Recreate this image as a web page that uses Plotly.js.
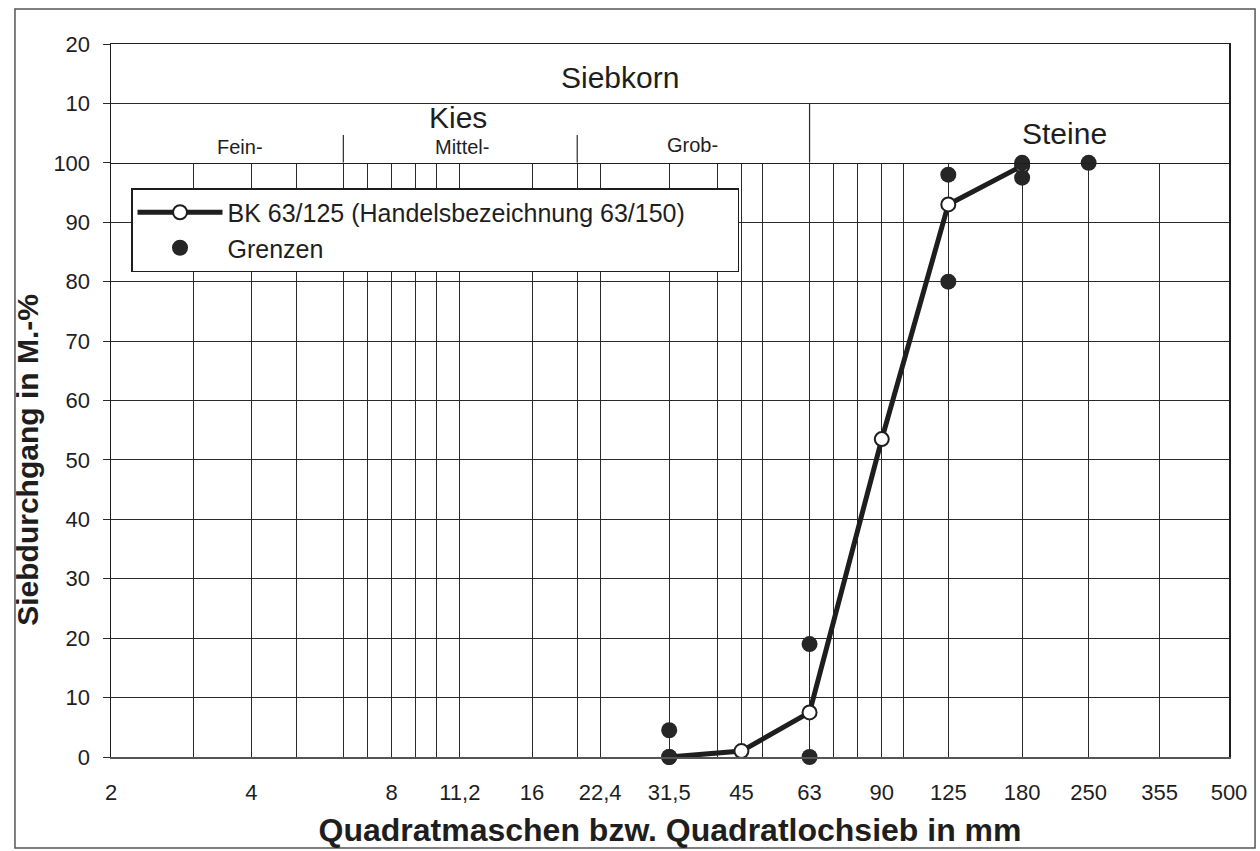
<!DOCTYPE html>
<html>
<head>
<meta charset="utf-8">
<script src="https://cdn.plot.ly/plotly-3.0.1.min.js"></script>
<style>html,body{margin:0;padding:0;background:#fff}</style>
</head>
<body>
<div id="chart" style="width:1260px;height:851px"></div>
<script>
// ---- data ----
const sieveSizes   = [31.5, 45, 63, 90, 125, 180];
const bkPassing    = [0, 1, 7.5, 53.5, 93, 99.5];
const limitSizes   = [31.5, 31.5, 63, 63, 125, 125, 180, 180, 250];
const limitPassing = [4.5, 0, 19, 0, 98, 80, 100, 97.5, 100];

// vertical grid lines (sieve sizes) and labelled ticks
const gridSizes  = [3, 4, 5, 6.3, 7.1, 8, 9, 10, 11.2, 16, 20, 22.4, 31.5, 40, 45, 50, 63, 71, 80, 90, 100, 125, 180, 250, 355];
const labelSizes = [2, 4, 8, 11.2, 16, 22.4, 31.5, 45, 63, 90, 125, 180, 250, 355, 500];
const labelTexts = ["2", "4", "8", "11,2", "16", "22,4", "31,5", "45", "63", "90", "125", "180", "250", "355", "500"];

const yTicks        = [0, 10, 20, 30, 40, 50, 60, 70, 80, 90, 100];
const headerTicks   = [110, 120];
const headerLabels  = ["10", "20"];

// header zones: grain class boundaries (mm)
const subZoneBounds = [6.3, 20];
const mainZoneBound = 63;
const zoneNames = ["Fein-", "Mittel-", "Grob-"];

// ---- build axes ----
const allTicks = Array.from(new Set(gridSizes.concat(labelSizes))).sort((a, b) => a - b);
const allTickText = allTicks.map(v => {
  const i = labelSizes.indexOf(v);
  return i >= 0 ? labelTexts[i] : "";
});

const FONT = "Liberation Sans, Arial, sans-serif";
const INK = "#1e1e1e";
const GRID = "#2a2a2a";
const xr = [Math.log10(2), Math.log10(500)];
const split = 100 / 120;

const traces = [
  {
    x: sieveSizes, y: bkPassing, name: "BK 63/125 (Handelsbezeichnung 63/150)",
    type: "scatter", mode: "lines+markers", xaxis: "x", yaxis: "y",
    line: {color: INK, width: 5},
    marker: {symbol: "circle", size: 14, color: "#ffffff", line: {color: INK, width: 2}},
    cliponaxis: false
  },
  {
    x: limitSizes, y: limitPassing, name: "Grenzen",
    type: "scatter", mode: "markers", xaxis: "x", yaxis: "y",
    marker: {symbol: "circle", size: 16, color: "#262626"},
    cliponaxis: false
  }
];

const shapes = [];
subZoneBounds.forEach(b => shapes.push({type: "line", xref: "x2", yref: "y2", x0: b, x1: b, y0: 100, y1: 104.7, line: {color: GRID, width: 1.2}}));
shapes.push({type: "line", xref: "x2", yref: "y2", x0: mainZoneBound, x1: mainZoneBound, y0: 100, y1: 110, line: {color: GRID, width: 1.2}});
// outer frame of the figure
shapes.push({type: "rect", xref: "paper", yref: "paper", x0: -0.0859, x1: 1.0233, y0: -0.1276, y1: 1.049, line: {color: "#555", width: 1.5}});

const ann = (text, x, y, size) => ({text: text, xref: "paper", yref: "y2", x: x, y: y,
  xanchor: "center", yanchor: "middle", showarrow: false, font: {family: FONT, size: size, color: INK}});
const annotations = [
  ann("Siebkorn", 0.455, 114.4, 30),
  ann("Kies", 0.31, 107.7, 30),
  ann(zoneNames[0], 0.1154, 102.6, 20),
  ann(zoneNames[1], 0.314, 102.6, 20),
  ann(zoneNames[2], 0.5197, 103.0, 20),
  ann("Steine", 0.853, 105.0, 30)
];

const layout = {
  width: 1260, height: 851,
  margin: {l: 111, r: 31, t: 44, b: 94},
  paper_bgcolor: "#ffffff", plot_bgcolor: "#ffffff",
  font: {family: FONT, color: INK},
  showlegend: true,
  legend: {
    orientation: "h",
    x: 0.0179, y: 0.798, xanchor: "left", yanchor: "top",
    bgcolor: "#ffffff", bordercolor: INK, borderwidth: 1.5,
    font: {family: FONT, size: 25, color: INK},
    itemwidth: 85, entrywidth: 505, entrywidthmode: "pixels",
    traceorder: "normal"
  },
  xaxis: {
    type: "log", range: xr, domain: [0, 1], anchor: "y",
    tickmode: "array", tickvals: allTicks, ticktext: allTickText,
    ticks: "", ticklabelstandoff: 15,
    tickfont: {family: FONT, size: 22, color: INK},
    showgrid: true, gridcolor: GRID, gridwidth: 1,
    showline: true, linecolor: "#555", linewidth: 1.5, mirror: false,
    zeroline: false,
    title: {text: "Quadratmaschen bzw. Quadratlochsieb in mm", standoff: 14,
            font: {family: FONT, size: 32, weight: "bold", color: INK}}
  },
  yaxis: {
    range: [0, 100], domain: [0, split], anchor: "x",
    tickmode: "array", tickvals: yTicks,
    ticks: "outside", ticklen: 7, tickcolor: GRID, tickwidth: 1,
    ticklabelstandoff: 8,
    tickfont: {family: FONT, size: 22, color: INK},
    showgrid: true, gridcolor: GRID, gridwidth: 1,
    showline: true, linecolor: INK, linewidth: 1.5, mirror: true,
    zeroline: false,
    title: {text: "Siebdurchgang in M.-%", standoff: 6,
            font: {family: FONT, size: 30, weight: "bold", color: INK}}
  },
  xaxis2: {
    type: "log", range: xr, domain: [0, 1], anchor: "y2",
    showticklabels: false, ticks: "", showgrid: false,
    showline: true, linecolor: INK, linewidth: 1.3, mirror: true, zeroline: false
  },
  yaxis2: {
    range: [100, 120], domain: [split, 1], anchor: "x2",
    tickmode: "array", tickvals: headerTicks, ticktext: headerLabels,
    ticks: "outside", ticklen: 7, tickcolor: GRID, tickwidth: 1,
    ticklabelstandoff: 8,
    tickfont: {family: FONT, size: 22, color: INK},
    showgrid: true, gridcolor: GRID, gridwidth: 1,
    showline: true, linecolor: INK, linewidth: 1.5, mirror: true, zeroline: false
  },
  shapes: shapes,
  annotations: annotations
};

Plotly.newPlot("chart", traces, layout, {displayModeBar: false, staticPlot: true});
</script>
</body>
</html>
